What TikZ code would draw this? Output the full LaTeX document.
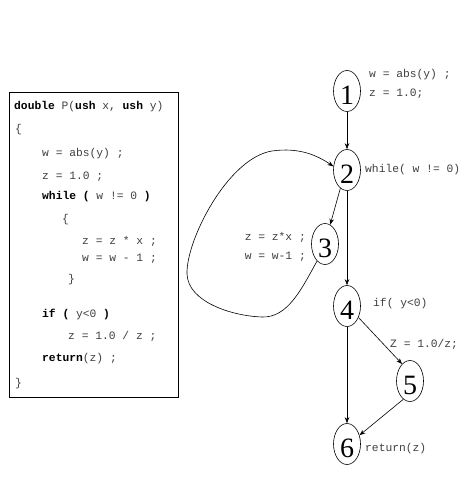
\documentclass[tikz,border=0pt]{standalone}
\usepackage{fontspec}
\setmainfont{Liberation Serif}
\setmonofont{Liberation Mono}
\usetikzlibrary{shapes.geometric,arrows.meta}
\newcommand{\kw}[1]{\textcolor{black}{\textbf{#1}}}
\tikzset{
  cfgnode/.style={ellipse,draw,line width=0.6pt,minimum width=27pt,minimum height=41pt,inner sep=0pt,
    font=\fontsize{28}{28}\selectfont,text height=26.5pt,text depth=0pt},
  codetxt/.style={anchor=base west,inner sep=0pt,text=black!75,font=\ttfamily\fontsize{11.3}{13}\selectfont},
  arr/.style={line width=0.6pt,-{Stealth[length=6pt,width=4.5pt]}}
}
\begin{document}
\begin{tikzpicture}[x=1pt,y=-1pt]
\useasboundingbox[fill=white] (0,0) rectangle (465,494);
% code box
\draw[line width=0.6pt] (9,92) rectangle (178,397);
\node[codetxt] (c1) at (14,110) {\kw{double} P(\kw{ush} x, \kw{ush} y)};
\node[codetxt] (c2) at (15,133) {\{};
\node[codetxt] (c3) at (42,157) {w = abs(y) ;};
\node[codetxt] (c4) at (42,179) {z = 1.0 ;};
\node[codetxt] (c5) at (42,200) {\kw{while ( }w != 0 \kw{)}};
\node[codetxt] (c6) at (62,222) {\{};
\node[codetxt] (c7) at (82,244) {z = z * x ;};
\node[codetxt] (c8) at (82,261) {w = w - 1 ;};
\node[codetxt] (c9) at (68,282) {\}};
\node[codetxt] (c10) at (42,317) {\kw{if ( }y<0 \kw{)}};
\node[codetxt] (c11) at (68,339) {z = 1.0 / z ;};
\node[codetxt] (c12) at (42,361) {\kw{return}(z) ;};
\node[codetxt] (c13) at (15,386) {\}};
% graph nodes
\node[cfgnode] (n1) at (347,91) {1};
\node[cfgnode] (n2) at (347,170) {2};
\node[cfgnode] (n3) at (325,244) {3};
\node[cfgnode] (n4) at (347,306) {4};
\node[cfgnode] (n5) at (410,381) {5};
\node[cfgnode] (n6) at (347,444) {6};
% labels
\node[codetxt] (l1a) at (369,78) {w = abs(y) ;};
\node[codetxt] (l1b) at (369,97) {z = 1.0;};
\node[codetxt] (l2) at (365,173) {while( w != 0)};
\node[codetxt,anchor=base east] (l3a) at (306,240) {z = z*x ;};
\node[codetxt,anchor=base east] (l3b) at (306,259) {w = w-1 ;};
\node[codetxt] (l4) at (373,306) {if( y<0)};
\node[codetxt] (l5) at (390,347) {Z = 1.0/z;};
\node[codetxt] (l6) at (365,451) {return(z)};
% edges
\draw[arr] (n1.south) -- (n2.north);
\draw[arr] (n2.250) -- (n3.75);
\draw[arr] (n2.south) -- (n4.north);
\draw[arr] (n3.245) .. controls (302,288) and (288,318) .. (262,317)
  .. controls (232,316) and (188,302) .. (187,274)
  .. controls (186,240) and (228,158) .. (272,151)
  .. controls (300,147) and (318,156) .. (n2.165);
\draw[arr] (n4.-45) -- (n5.115);
\draw[arr] (n4.south) -- (n6.north);
\draw[arr] (n5.-110) -- (n6.35);
\end{tikzpicture}
\end{document}
